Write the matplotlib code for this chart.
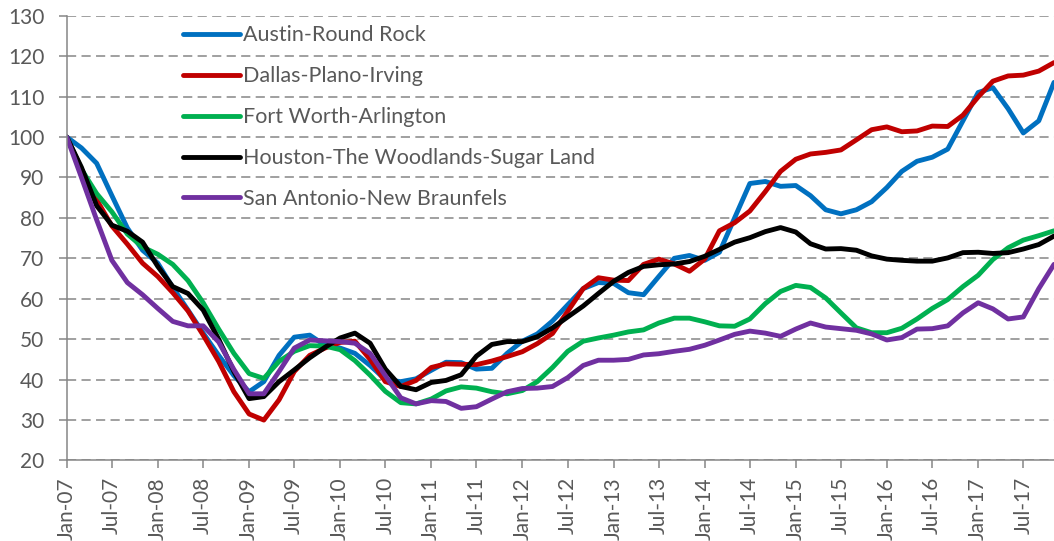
import pandas as pd
import matplotlib
matplotlib.use("Agg")
import matplotlib.pyplot as plt
import matplotlib.dates as mdates

plt.rcParams['font.family'] = ['Lato', 'DejaVu Sans']

# bimonthly readings, Jan-07 .. Nov-17 (index = 100 at Jan-07)
dates = pd.date_range('2007-01-01', periods=66, freq='2MS')

austin = [100, 97.3, 93.5, 85.5, 77.5, 72, 68.8, 62.8, 57.2, 51.5, 46, 41, 37, 39.5, 46, 50.5,
          51, 48.5, 47.8, 46.5, 43.5, 40, 39.5, 40.2, 42.3, 44.3, 44.2, 42.6, 42.8, 46.5, 49.5, 51.3,
          54.5, 58.5, 62.5, 64, 63.8, 61.5, 61, 65.5, 70, 70.7, 69.5, 71.5, 80, 88.5, 89, 87.8,
          88, 85.5, 82, 81, 82, 84, 87.5, 91.5, 94, 95, 97, 104, 111, 112.2, 107, 101, 104, 113.5]
dallas = [100, 92, 84.5, 78, 73.5, 68.8, 65.5, 61.5, 57, 51, 44.5, 37, 31.5, 30, 35, 42,
          46, 47.8, 49.2, 49.5, 45, 39.5, 38.3, 39.8, 43, 43.9, 43.8, 43.7, 44.6, 45.7, 46.9, 48.9,
          51.4, 56.9, 62.5, 65.2, 64.6, 64.5, 68.5, 69.8, 68.6, 66.8, 69.8, 76.8, 78.8, 81.7, 86.5, 91.5,
          94.5, 95.8, 96.2, 96.8, 99.3, 101.8, 102.5, 101.3, 101.5, 102.7, 102.6, 105.4, 109.9, 113.8, 115.1, 115.3,
          116.3, 118.4]
fort_worth = [100, 92, 86, 81.5, 76, 72.8, 71, 68.5, 64.5, 59, 52.5, 46.5, 41.5, 40.3, 44.5, 47,
              48.4, 48.3, 47.4, 44.7, 41.1, 37.1, 34.3, 34, 35.2, 37.2, 38.2, 37.9, 37, 36.5, 37.3, 39.5,
              43, 47, 49.5, 50.3, 51, 51.8, 52.3, 54, 55.2, 55.2, 54.3, 53.3, 53.2, 55, 58.8, 61.8,
              63.3, 62.8, 60.2, 56.5, 52.8, 51.6, 51.6, 52.7, 55, 57.6, 59.8, 63, 65.8, 69.7, 72.6, 74.5,
              75.6, 76.8]
houston = [100, 92.5, 83, 78.2, 76.7, 74, 68, 63, 61.3, 57.2, 50, 42, 35.3, 35.8, 39.5, 42.4,
           45.4, 48, 50.3, 51.5, 49, 42.6, 38.3, 37.5, 39.3, 39.8, 41.2, 45.8, 48.7, 49.4, 49.4, 50.6,
           52.8, 55.5, 58.2, 61.3, 64.3, 66.5, 68, 68.4, 68.6, 69.2, 70.5, 72.2, 74, 75.1, 76.6, 77.6,
           76.5, 73.6, 72.3, 72.4, 72, 70.6, 69.8, 69.5, 69.3, 69.3, 70.1, 71.4, 71.5, 71.2, 71.4, 72.3,
           73.4, 75.5]
san_antonio = [100, 90, 79.5, 69.5, 64, 61, 57.6, 54.4, 53.3, 53.3, 49.3, 42.5, 36.5, 36.5, 42, 47.8,
               49.8, 49.6, 49.4, 49, 46.5, 41, 35.5, 34, 34.8, 34.6, 32.9, 33.3, 35.2, 37, 37.8, 37.9,
               38.3, 40.5, 43.5, 44.8, 44.8, 45, 46.1, 46.4, 47, 47.5, 48.5, 49.8, 51.2, 52, 51.5, 50.7,
               52.5, 54, 53, 52.6, 52.2, 51.3, 49.8, 50.4, 52.5, 52.6, 53.3, 56.5, 59, 57.5, 55, 55.5,
               62.5, 68.5]

series = [
    ('Austin-Round Rock', austin, '#0070C0'),
    ('Dallas-Plano-Irving', dallas, '#C00000'),
    ('Fort Worth-Arlington', fort_worth, '#00B050'),
    ('Houston-The Woodlands-Sugar Land', houston, '#000000'),
    ('San Antonio-New Braunfels', san_antonio, '#7030A0'),
]

grey = '#868686'
txt = '#595959'

fig = plt.figure(figsize=(10.54, 5.41), dpi=100)
ax = fig.add_axes([0.0633, 0.1488, 0.9367, 0.8222])

for label, vals, col in series:
    ax.plot(dates, vals, color=col, lw=3.5, label=label,
            solid_capstyle='round', solid_joinstyle='round')

ax.set_ylim(20, 130)
ax.set_yticks(range(20, 131, 10))
ax.set_xlim(pd.Timestamp('2007-01-01'), pd.Timestamp('2017-11-01'))
ax.xaxis.set_major_locator(mdates.MonthLocator(bymonth=[1, 7]))
ax.xaxis.set_major_formatter(mdates.DateFormatter('%b-%y'))
plt.setp(ax.get_xticklabels(), rotation=90)

ax.grid(axis='y', color=grey, lw=1.1, linestyle=(0, (6, 3.5)))
ax.set_axisbelow(True)
for s in ['top', 'right']:
    ax.spines[s].set_visible(False)
for s in ['left', 'bottom']:
    ax.spines[s].set_color(grey)
    ax.spines[s].set_linewidth(1.1)
ax.tick_params(axis='both', colors=grey, labelcolor=txt, labelsize=15, length=6, width=1.1)
ax.tick_params(axis='y', pad=10)
ax.tick_params(axis='x', pad=6)

ax.legend(loc='upper left', bbox_to_anchor=(0.1178, 0.978), frameon=False, fontsize=15.5,
          borderpad=0, borderaxespad=0,
          handlelength=2.65, handletextpad=0.15, labelspacing=0.97, labelcolor=txt)

fig.savefig('out.png', dpi=100)
